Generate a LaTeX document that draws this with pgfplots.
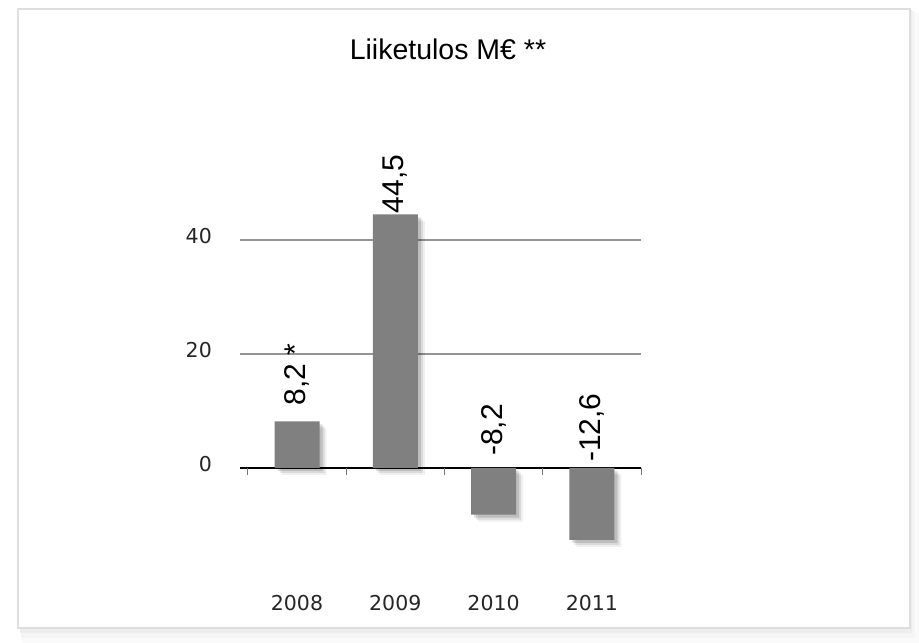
\documentclass[border=0pt]{standalone}
\usepackage{pgfplots}
\usepackage{pgfplotstable}
\pgfplotsset{compat=1.18}
\usepackage{fontspec}
\setmainfont{Liberation Sans}
\newfontfamily\dejavu{DejaVu Sans}

\pgfplotstableread{
x y
0 8.2
1 44.5
2 -8.2
3 -12.6
}\bardata

\pgfplotstableread{
x ly label
0 11.0 {8,2 *}
1 44.7 {44,5}
2 2.1 {-8,2}
3 1.05 {-12,6}
}\labeldata

\begin{document}
\begin{tikzpicture}
\useasboundingbox (0,0) rectangle (919pt,643pt);
\fill[white] (0,0) rectangle (919pt,643pt);
% frame with soft shadow
\fill[black!2] (22pt,0pt) rectangle (919pt,630pt);
\fill[black!4] (21pt,5pt) rectangle (915pt,632pt);
\fill[black!7] (20pt,10pt) rectangle (912pt,633pt);
\fill[white, draw=black!13, line width=1.5pt] (18pt,15pt) rectangle (910pt,634pt);
\node[anchor=base, font=\fontsize{28.5}{32}\selectfont] at (448pt,583pt) {Liiketulos M€ **};
\begin{axis}[
  at={(240pt,61pt)}, anchor=south west,
  scale only axis, width=401pt, height=399pt,
  xmin=-0.58, xmax=3.5, ymin=-20, ymax=50,
  axis x line=middle, axis y line=left,
  axis line style={-},
  x axis line style={black, line width=1.3pt},
  y axis line style={draw=none},
  clip=false,
  /pgf/number format/assume math mode=true,
  major tick length=0pt,
  xtick={0,1,2,3},
  xticklabels={2008,2009,2010,2011},
  xtick style={draw=black!55, line width=1pt},
  xticklabel style={font=\dejavu\fontsize{20.5}{23}\selectfont, text=black!85, inner sep=0pt, anchor=north, yshift=-127pt},
  extra x ticks={-0.5,0.5,1.5,2.5,3.5},
  extra x tick labels={},
  extra x tick style={major tick length=7pt, tick align=outside},
  ytick={0,20,40},
  ytick style={draw=none},
  yticklabel style={font=\dejavu\fontsize{20.5}{23}\selectfont, text=black!85, inner sep=0pt, anchor=east, xshift=-28pt, yshift=4pt},
  ymajorgrids,
  grid style={black!42, line width=1.5pt},
]
\addplot[ybar, bar width=45pt, fill=black!50, draw=none,
  preaction={fill=black, opacity=0.06, transform canvas={xshift=7pt, yshift=-7pt}},
  preaction={fill=black, opacity=0.09, transform canvas={xshift=5pt, yshift=-5pt}},
  preaction={fill=black, opacity=0.13, transform canvas={xshift=3pt, yshift=-3pt}},
] table[x=x, y=y] {\bardata};
\addplot[draw=none, mark=none, nodes near coords, point meta=explicit symbolic,
  every node near coord/.style={rotate=90, anchor=west, inner sep=0pt, font=\fontsize{30}{34}\selectfont, text=black}]
  table[x=x, y=ly, meta=label] {\labeldata};
\end{axis}
\end{tikzpicture}
\end{document}
